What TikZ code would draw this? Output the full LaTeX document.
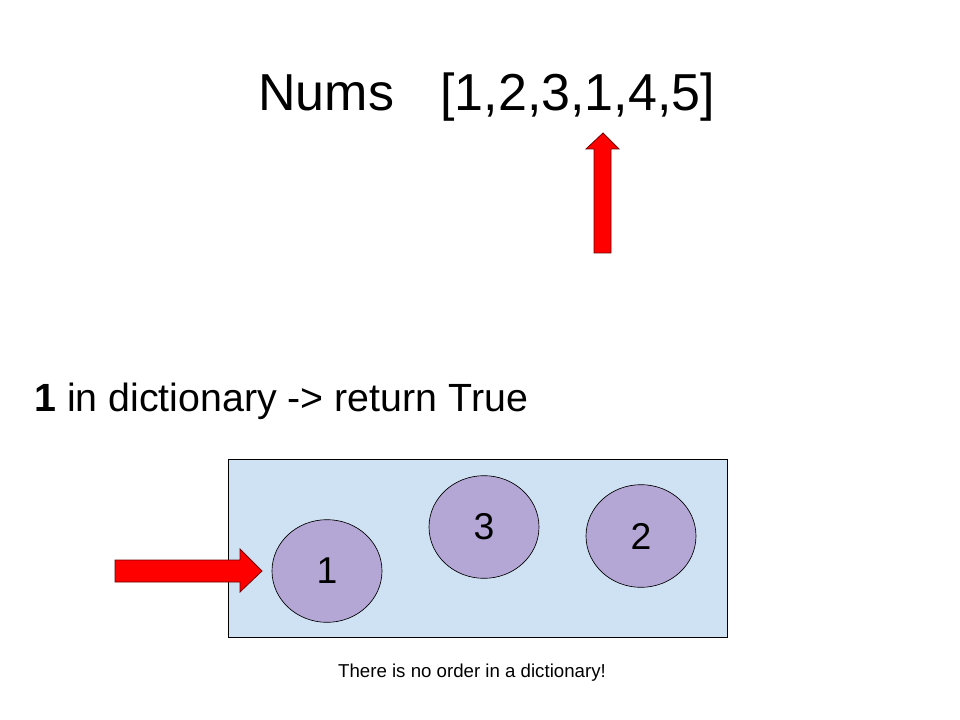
\documentclass[tikz,border=0pt]{standalone}
\usepackage{fontspec}
\setmainfont{Liberation Sans}
\definecolor{DictBlue}{RGB}{207,226,243}
\definecolor{KeyPurple}{RGB}{180,167,214}
\definecolor{PointerRed}{RGB}{255,0,0}
\definecolor{PointerEdge}{RGB}{110,0,0}
\usetikzlibrary{shapes.geometric}

\begin{document}
\begin{tikzpicture}[
    x=0.75pt, y=-0.75pt,
    dict/.style={draw, fill=DictBlue, line width=0.6pt},
    key/.style={draw, ellipse, fill=KeyPurple, line width=0.5pt, inner sep=0pt,
                minimum width=82.5pt, minimum height=77pt, font=\fontsize{28}{30}\selectfont},
    pointer/.style={draw=PointerEdge, fill=PointerRed, line width=0.6pt, line join=miter},
    lbl/.style={anchor=base west, inner sep=0pt}
  ]
    \useasboundingbox (0,0) rectangle (960,720);

    % Title row
    \node[lbl, font=\fontsize{39}{42}\selectfont] (nums) at (258,111) {Nums};
    \node[lbl, font=\fontsize{39}{42}\selectfont] (list) at (440,111) {[1,2,3,1,4,5]};

    % Pointer under the fourth entry
    \draw[pointer] (594,253) -- (594,149) -- (586,149) -- (603,133)
                   -- (619,149) -- (611,149) -- (611,253) -- cycle;

    % Lookup line
    \node[lbl, font=\fontsize{29.5}{32}\selectfont] (check) at (34,411)
        {\textbf{1} in dictionary -> return True};

    % Dictionary with its keys
    \draw[dict] (228,459) rectangle (727,637);
    \node[key] (one)   at (327,571) {1};
    \node[key] (three) at (484,527) {3};
    \node[key] (two)   at (641,536) {2};

    % Pointer into the dictionary
    \draw[pointer] (115,560) -- (240,560) -- (240,549) -- (262,571)
                   -- (240,592) -- (240,582) -- (115,582) -- cycle;

    % Note
    \node[font=\fontsize{14}{16}\selectfont, anchor=base, inner sep=0pt] (note) at (472,677)
        {There is no order in a dictionary!};
  \end{tikzpicture}
\end{document}
